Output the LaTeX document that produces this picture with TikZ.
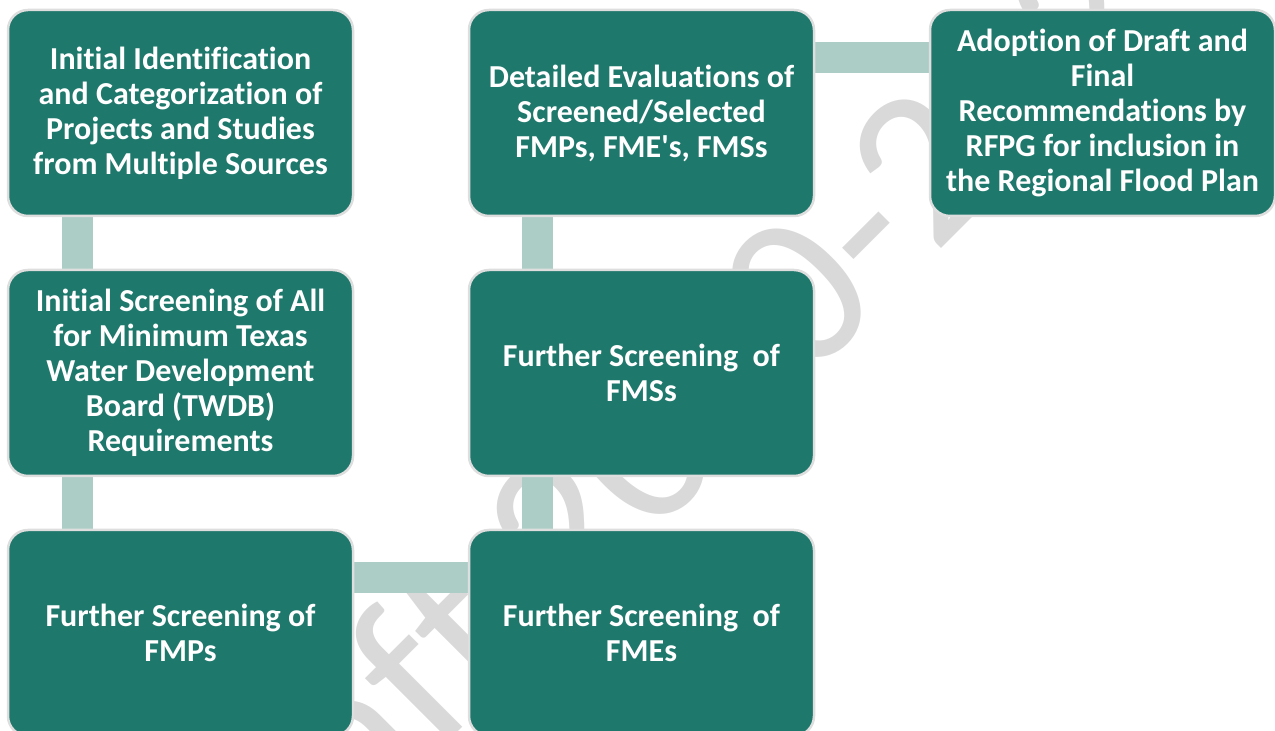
\documentclass[tikz,border=0pt]{standalone}
\usepackage{fontspec}
\setmainfont{Carlito}[Ligatures={TeX,NoCommon,NoContextual}]
\usetikzlibrary{backgrounds}
\definecolor{boxfill}{RGB}{31,120,108}
\definecolor{barcol}{RGB}{172,205,198}
\definecolor{edgecol}{RGB}{222,222,222}
\definecolor{wmcol}{RGB}{217,217,217}
\begin{document}
\begin{tikzpicture}[x=1pt,y=1pt,
  box/.style={draw=edgecol, line width=2.5pt, fill=boxfill, rounded corners=20pt,
    minimum width=345pt, minimum height=206pt, inner sep=0pt, text=white,
    align=center, font=\fontsize{32}{35}\selectfont\bfseries},
  bar/.style={draw=barcol, line width=31pt},
  wmtext/.style={text=wmcol, inner sep=0pt, font=\fontsize{220}{220}\selectfont}]
\useasboundingbox (0,0) rectangle (1275,731);
% boxes
\node[box] (b1) at (180.5,618) {Initial Identification\\and Categorization of\\Projects and Studies\\from Multiple Sources};
\node[box] (b2) at (180.5,358) {Initial Screening of All\\for Minimum Texas\\Water Development\\Board (TWDB)\\Requirements};
\node[box] (b3) at (180.5,98) {Further Screening of\\FMPs};
\node[box] (b4) at (641.5,98) {Further Screening\ \ of\\FMEs};
\node[box] (b5) at (641.5,358) {Further Screening\ \ of\\FMSs};
\node[box] (b6) at (641.5,618) {Detailed Evaluations of\\Screened/Selected\\FMPs, FME\textquotesingle s, FMSs};
\node[box] (b7) at (1102.5,618) {Adoption of Draft and\\Final\\Recommendations by\\RFPG for inclusion in\\the Regional Flood Plan};
\begin{scope}[on background layer]
  \begin{scope}
    \clip (0,0) rectangle (1275,731);
    \node[wmtext, rotate=45, anchor=base west] (wm) at (216,-243) {Draft 2020-2023};
  \end{scope}
  \draw[bar] ([xshift=-103.5pt]b1.south) -- ([xshift=-103.5pt]b2.north);
  \draw[bar] ([xshift=-103.5pt]b2.south) -- ([xshift=-103.5pt]b3.north);
  \draw[bar] ([yshift=-49pt]b3.north east) -- ([yshift=-49pt]b4.north west);
  \draw[bar] ([xshift=-104pt]b4.north) -- ([xshift=-104pt]b5.south);
  \draw[bar] ([xshift=-104pt]b5.north) -- ([xshift=-104pt]b6.south);
  \draw[bar] ([yshift=-49pt]b6.north east) -- ([yshift=-49pt]b7.north west);
\end{scope}
\end{tikzpicture}
\end{document}
